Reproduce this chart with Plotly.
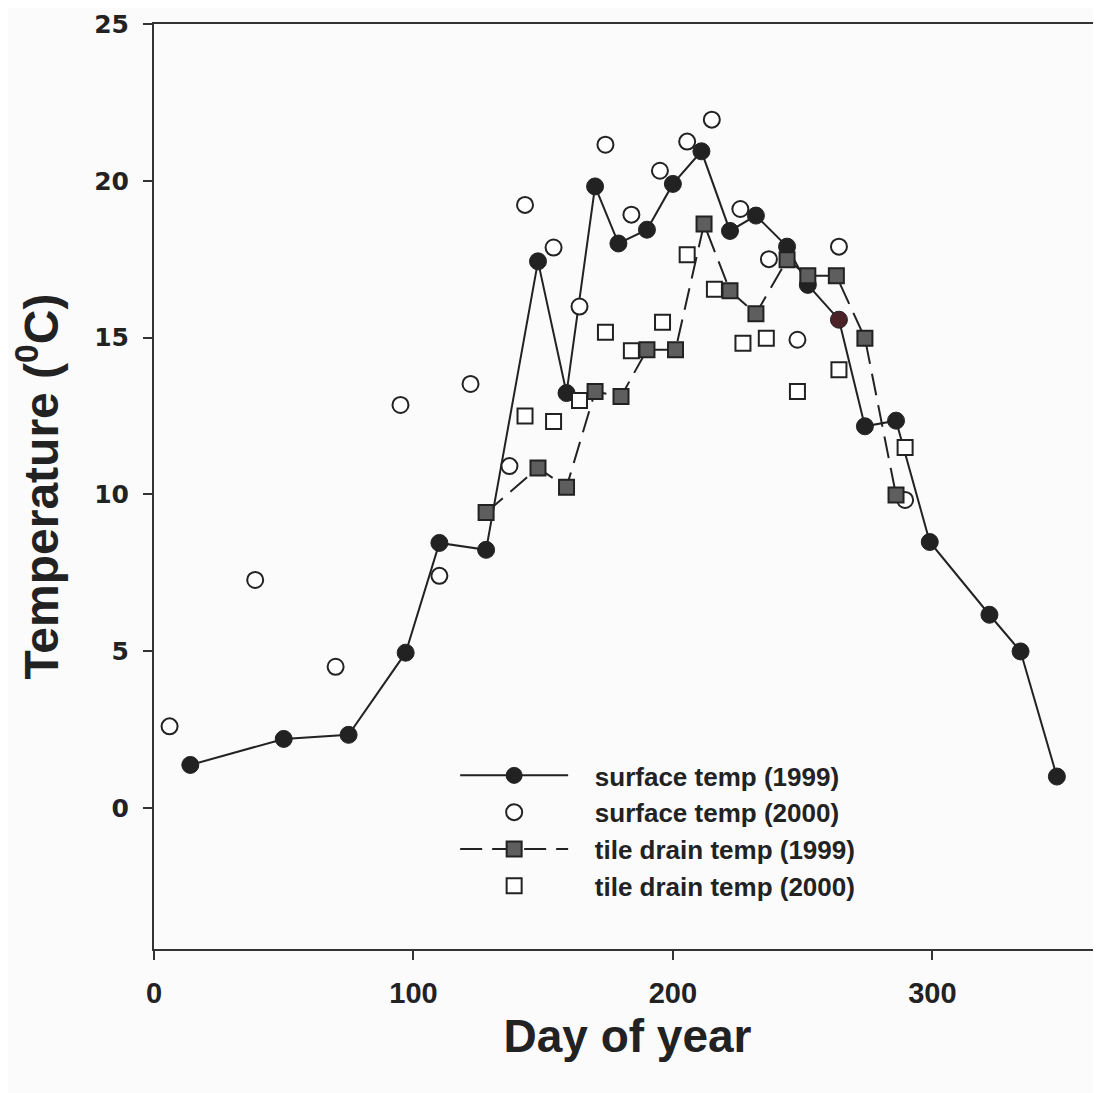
import plotly.graph_objects as go

# --- data ---
surf1999_day = [14, 50, 75, 97, 110, 128, 148, 159, 170, 179, 190, 200, 211, 222,
                232, 244, 252, 264, 274, 286, 299, 322, 334, 348]
surf1999_temp = [1.37, 2.2, 2.33, 4.95, 8.45, 8.23, 17.43, 13.23, 19.82, 18.0, 18.44, 19.9,
                 20.94, 18.4, 18.89, 17.9, 16.68, 15.57, 12.17, 12.35, 8.48, 6.16, 4.99, 1.0]

surf2000_day = [6, 39, 70, 95, 110, 122, 137, 143, 154, 164, 174, 184, 195, 205.5,
                215, 226, 237, 248, 264, 289.5]
surf2000_temp = [2.6, 7.27, 4.5, 12.85, 7.4, 13.52, 10.9, 19.23, 17.87, 15.99, 21.15,
                 18.92, 20.32, 21.25, 21.95, 19.1, 17.5, 14.93, 17.9, 9.82]

tile1999_day = [128, 148, 159, 170, 180, 190, 201, 212, 222, 232, 244, 252, 263, 274, 286]
tile1999_temp = [9.42, 10.84, 10.23, 13.28, 13.12, 14.61, 14.61, 18.62, 16.49, 15.76,
                 17.48, 16.97, 16.97, 14.98, 9.98]

tile2000_day = [143, 154, 164, 174, 184, 196, 205.5, 216, 227, 236, 248, 264, 289.5]
tile2000_temp = [12.5, 12.32, 12.99, 15.17, 14.58, 15.49, 17.64, 16.54, 14.82, 14.98,
                 13.28, 13.97, 11.49]

x_ticks = [0, 100, 200, 300]
y_ticks = [0, 5, 10, 15, 20, 25]

names = ["surface temp (1999)", "surface temp (2000)",
         "tile drain temp (1999)", "tile drain temp (2000)"]

INK = "#222222"
BG = "#fbfbfc"
surf1999_colors = [INK] * len(surf1999_temp)
surf1999_colors[17] = "#4a2228"

PAD = "\u00a0\u00a0\u00a0"  # gap between legend sample and label

fig = go.Figure()
fig.add_trace(go.Scatter(
    x=surf1999_day, y=surf1999_temp, name=PAD + names[0], mode="lines+markers",
    line=dict(color=INK, width=2),
    marker=dict(symbol="circle", size=17, color=surf1999_colors,
                line=dict(color=INK, width=1))))
fig.add_trace(go.Scatter(
    x=surf2000_day, y=surf2000_temp, name=PAD + names[1], mode="markers",
    marker=dict(symbol="circle", size=16, color="white",
                line=dict(color=INK, width=2))))
fig.add_trace(go.Scatter(
    x=tile1999_day, y=tile1999_temp, name=PAD + names[2], mode="lines+markers",
    line=dict(color=INK, width=2, dash="22px,10px"),
    marker=dict(symbol="square", size=15, color="#5e5e5e",
                line=dict(color=INK, width=2))))
fig.add_trace(go.Scatter(
    x=tile2000_day, y=tile2000_temp, name=PAD + names[3], mode="markers",
    marker=dict(symbol="square", size=15, color="white",
                line=dict(color=INK, width=2))))

# page body has an 8px margin: the sizes below compensate for it
fig.update_layout(
    width=1093, height=1085,
    margin=dict(l=146, r=0, t=16, b=144),
    paper_bgcolor=BG, plot_bgcolor=BG,
    font=dict(family="Liberation Sans, Arial, sans-serif", color="#222"),
    showlegend=True,
    legend=dict(x=0.318, y=0.213, xanchor="left", yanchor="top",
                bgcolor="rgba(0,0,0,0)", itemwidth=108,
                font=dict(size=26, family="Liberation Sans, Arial", color="#222",
                          weight="bold"),
                tracegroupgap=0),
)
fig.update_xaxes(
    range=[0, 365], tickvals=x_ticks, ticks="outside", ticklen=9, tickwidth=2,
    tickcolor="#333", showline=True, linecolor="#333", linewidth=2, mirror=True,
    showgrid=False, zeroline=False, ticklabelstandoff=8,
    tickfont=dict(size=29, family="Liberation Sans, Arial", weight="bold", color="#222"),
    title=dict(text="Day of year", standoff=12,
               font=dict(size=46, family="Liberation Sans, Arial", weight="bold",
                         color="#222")))
fig.update_yaxes(
    range=[-4.5, 25], tickvals=y_ticks, ticks="outside", ticklen=9, tickwidth=2,
    tickcolor="#333", showline=True, linecolor="#333", linewidth=2,
    showgrid=False, zeroline=False, ticklabelstandoff=9,
    tickfont=dict(size=25, family="DejaVu Sans", weight="bold", color="#222"),
    title=dict(text="Temperature (<sup>0</sup>C)", standoff=21,
               font=dict(size=48, family="Liberation Sans, Arial", weight="bold",
                         color="#222")))

fig.write_html("out.html")
